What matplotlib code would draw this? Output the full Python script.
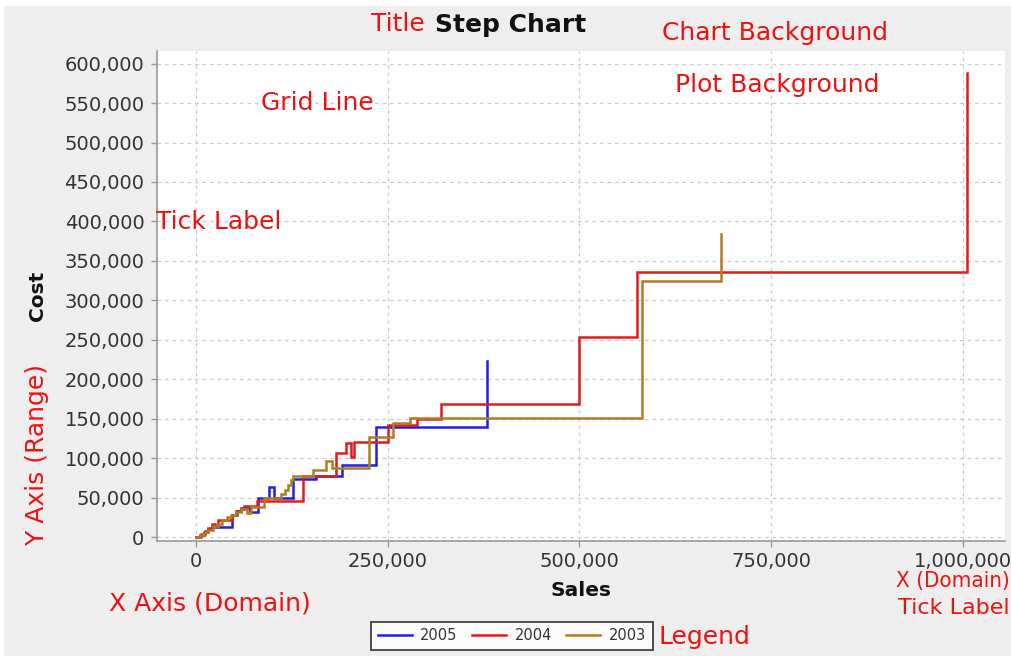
import matplotlib
matplotlib.use("Agg")
import matplotlib.pyplot as plt
from matplotlib.patches import Rectangle
from matplotlib.ticker import FuncFormatter

# Sales (x) and cost (y) step points per year, in thousands
sales_2005 = [0, 5, 10, 16, 21, 47, 53, 59, 70, 81, 95, 102, 126, 157, 190, 235, 379]
cost_2005 = [0, 3, 7, 10, 13, 28, 33, 37, 32, 50, 64, 49, 73, 77, 91, 140, 223]

sales_2004 = [0, 6, 11, 16, 21, 25, 28, 33, 47, 52, 58, 63, 80, 140, 183, 196, 202, 206,
              250, 288, 320, 499, 575, 1005]
cost_2004 = [0, 4, 8, 12, 17, 14, 21, 22, 28, 33, 36, 39, 46, 78, 106, 119, 101, 121,
             142, 150, 169, 254, 336, 588]

sales_2003 = [0, 5, 10, 16, 22, 28, 34, 40, 46, 52, 58, 66, 72, 88, 111, 116, 120, 124,
              127, 153, 170, 177, 225, 257, 279, 582, 684]
cost_2003 = [0, 2, 6, 9, 14, 17, 21, 25, 28, 32, 35, 30, 38, 49, 54, 60, 66, 72,
             77, 85, 96, 87, 127, 144, 151.5, 325, 384]

series_names = ["2005", "2004", "2003"]
series_colors = ["#1f1fe6", "#e31a1c", "#b07d1e"]

x_ticks = [0, 250000, 500000, 750000, 1000000]
y_ticks = list(range(0, 600001, 50000))

W, H = 1012, 656
fig = plt.figure(figsize=(W / 100, H / 100), dpi=100, facecolor="white")
fig.patches.append(Rectangle((4 / W, 0), 1 - 4 / W, 1 - 6 / H, transform=fig.transFigure,
                             facecolor="#eeeeee", edgecolor="none", zorder=-10))

left, right, top, bottom = 157, 1005, 51, 541
ax = fig.add_axes([left / W, 1 - bottom / H, (right - left) / W, (bottom - top) / H])
ax.set_facecolor("white")

all_series = [(sales_2005, cost_2005), (sales_2004, cost_2004), (sales_2003, cost_2003)]
for (xs, ys), name, col in zip(all_series, series_names, series_colors):
    ax.plot([v * 1000 for v in xs], [v * 1000 for v in ys], drawstyle="steps-post",
            color=col, lw=1.8, label=name, solid_joinstyle="miter")

ax.set_xlim(-51000, 1055000)
ax.set_ylim(-5000, 616000)
ax.set_xticks(x_ticks)
ax.set_yticks(y_ticks)
fmt = FuncFormatter(lambda v, p: f"{v:,.0f}")
ax.xaxis.set_major_formatter(fmt)
ax.yaxis.set_major_formatter(fmt)
ax.tick_params(axis="both", direction="out", length=4, width=1, color="#999999",
               labelsize=14, labelcolor="#333333")
ax.tick_params(axis="y", pad=5)
ax.tick_params(axis="x", pad=4)

ax.grid(True, color="#cccccc", lw=0.9, linestyle=(0, (3, 3)))
ax.set_axisbelow(True)
for s in ["top", "right"]:
    ax.spines[s].set_visible(False)
for s in ["left", "bottom"]:
    ax.spines[s].set_color("#999999")
    ax.spines[s].set_linewidth(1.2)

ax.set_xlabel("Sales", fontsize=14.5, fontweight="bold", color="#111111")
ax.set_ylabel("Cost", fontsize=14.5, fontweight="bold", color="#111111")
ax.xaxis.set_label_coords(0.5, (bottom - 590) / (bottom - top))
ax.yaxis.set_label_coords((38 - left) / (right - left), 0.5)
ax.xaxis.label.set_va("center")
ax.yaxis.label.set_va("center")

fig.text(511 / W, 1 - 25 / H, "Step Chart", fontsize=18, fontweight="bold",
         ha="center", va="center", color="#111111")

leg = fig.legend(loc="center", bbox_to_anchor=(512 / W, 1 - 636 / H), ncol=3,
                 fontsize=10.5, frameon=True, fancybox=False, edgecolor="black",
                 handlelength=2.3, columnspacing=1.0, handletextpad=0.6,
                 borderpad=0.45, borderaxespad=0, labelcolor="#333333")
leg.get_frame().set_linewidth(1.2)
leg.get_frame().set_facecolor("white")

# Red callouts naming the chart's parts
red = "#ee1111"
notes = [
    ("Title", 398, 24, 0),
    ("Chart Background", 775, 33, 0),
    ("Plot Background", 777, 85, 0),
    ("Grid Line", 317, 103, 0),
    ("Tick Label", 219, 222, 0),
    ("X Axis (Domain)", 210, 603, 0),
    ("Legend", 704, 637, 0),
    ("Y Axis (Range)", 37, 455, 90),
]
for txt, x, y, rot in notes:
    fig.text(x / W, 1 - y / H, txt, fontsize=18, color=red, ha="center", va="center",
             rotation=rot)
fig.text(1010 / W, 1 - 581 / H, "X (Domain)", fontsize=16, color=red, ha="right",
         va="center", fontstretch="condensed")
fig.text(1010 / W, 1 - 608 / H, "Tick Label", fontsize=16, color=red, ha="right",
         va="center")

fig.savefig("out.png", dpi=100, facecolor=fig.get_facecolor())
